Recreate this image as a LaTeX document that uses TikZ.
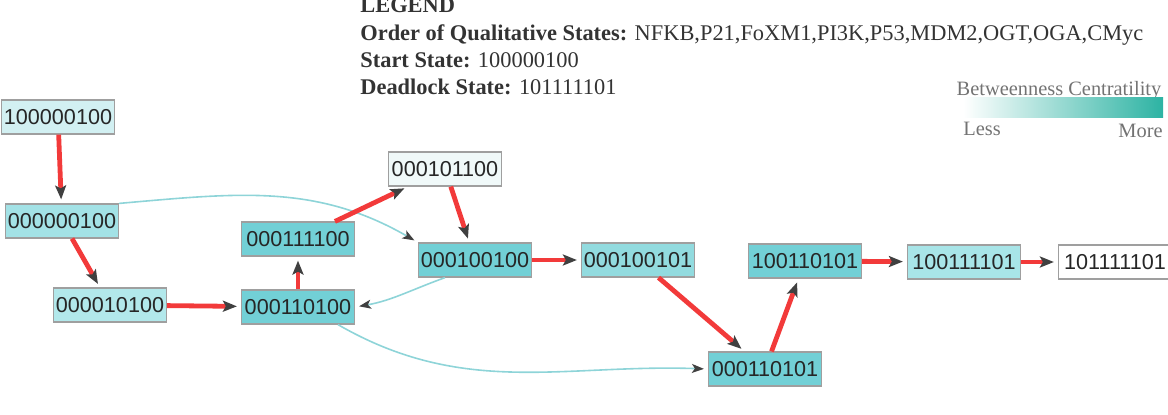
\documentclass[tikz,border=0pt]{standalone}
\usepackage{fontspec}
\setmainfont{Liberation Serif}
\newfontfamily\statefont{Liberation Sans}
\usetikzlibrary{arrows.meta,positioning}
\definecolor{tipgray}{HTML}{404040}
\definecolor{pathred}{HTML}{F23A3A}
\definecolor{sidecyan}{HTML}{8ED4D8}
\definecolor{bclow}{HTML}{D2F0F2}
\definecolor{bcmid}{HTML}{A3E2E6}
\definecolor{bcmidlow}{HTML}{B2E8EB}
\definecolor{bchigh}{HTML}{72D0D6}
\definecolor{bcnone}{HTML}{F0F9F9}
\definecolor{bcmidhigh}{HTML}{92DBDF}
\definecolor{bcmid2}{HTML}{A8E5E8}
\definecolor{bcmax}{HTML}{2DB3A3}
\definecolor{legendtext}{HTML}{333333}
\tikzset{state/.style={draw=gray!75,line width=0.6pt,minimum width=56.5pt,minimum height=17pt,inner sep=0.5pt,font=\statefont\fontsize{10.8}{12}\selectfont,text=black!85},redge/.style={-{Stealth[length=7pt,width=5.5pt,inset=1.5pt,color=tipgray]},line width=2.4pt,draw=pathred,shorten >=2pt},cedge/.style={-{Stealth[length=6pt,width=4.5pt,inset=1.5pt,color=tipgray]},line width=0.8pt,draw=sidecyan,shorten >=2pt},legend/.style={anchor=base west,inner sep=0pt,text=legendtext,font=\fontsize{11.2}{13}\selectfont},bclabel/.style={inner sep=0pt,text=gray!90!black,font=\fontsize{10.2}{12}\selectfont}}
\begin{document}
\begin{tikzpicture}[x=0.5pt,y=0.5pt]
\useasboundingbox (0,0) rectangle (1168,-414);
% legend
\node[legend] (title) at (360,-12) {\textbf{LEGEND}};
\node[legend] (order) at (360,-40) {\textbf{Order of Qualitative States:} NFKB,P21,FoXM1,PI3K,P53,MDM2,OGT,OGA,CMyc};
\node[legend] (start) at (360,-67) {\textbf{Start State:} 100000100};
\node[legend] (dead) at (360,-94) {\textbf{Deadlock State:} 101111101};
\node[bclabel,anchor=base] (bctitle) at (1059,-95) {Betweenness Centratility};
\node[minimum width=100pt,minimum height=10pt,inner sep=0pt,left color=white,right color=bcmax] (bcbar) at (1063,-107.5) {};
\node[bclabel,anchor=base west] (less) at (963,-135) {Less};
\node[bclabel,anchor=base east] (more) at (1163,-137) {More};
% states
\node[state,fill=bclow] (s100000100) at (58,-117) {100000100};
\node[state,fill=bcmid] (s000000100) at (62,-221) {000000100};
\node[state,fill=bcmidlow] (s000010100) at (110,-305) {000010100};
\node[state,fill=bchigh] (s000110100) at (298,-307) {000110100};
\node[state,fill=bchigh] (s000111100) at (298,-239) {000111100};
\node[state,fill=bcnone] (s000101100) at (445,-169) {000101100};
\node[state,fill=bchigh] (s000100100) at (475,-260) {000100100};
\node[state,fill=bcmidhigh] (s000100101) at (638,-260) {000100101};
\node[state,fill=bchigh] (s100110101) at (805,-261) {100110101};
\node[state,fill=bcmid2] (s100111101) at (964,-262) {100111101};
\node[state,fill=white] (s101111101) at (1115,-262) {101111101};
\node[state,fill=bchigh] (s000110101) at (765,-369) {000110101};
% side transitions
\draw[cedge] (s000000100.north east) to[out=5,in=150] (s000100100.north west);
\draw[cedge] ([xshift=-15pt]s000100100.south) to[out=200,in=10] (s000110100.east);
\draw[cedge] ([xshift=20pt]s000110100.south) to[out=-30,in=178] (s000110101.west);
% path to deadlock
\draw[redge] (s100000100)--(s000000100);
\draw[redge] (s000000100)--(s000010100);
\draw[redge] (s000010100)--(s000110100);
\draw[redge] (s000110100)--(s000111100);
\draw[redge] (s000111100)--(s000101100);
\draw[redge] (s000101100)--(s000100100);
\draw[redge] (s000100100)--(s000100101);
\draw[redge] (s000100101)--(s000110101);
\draw[redge] (s000110101)--(s100110101);
\draw[redge] (s100110101)--(s100111101);
\draw[redge] (s100111101)--(s101111101);
\end{tikzpicture}
\end{document}
